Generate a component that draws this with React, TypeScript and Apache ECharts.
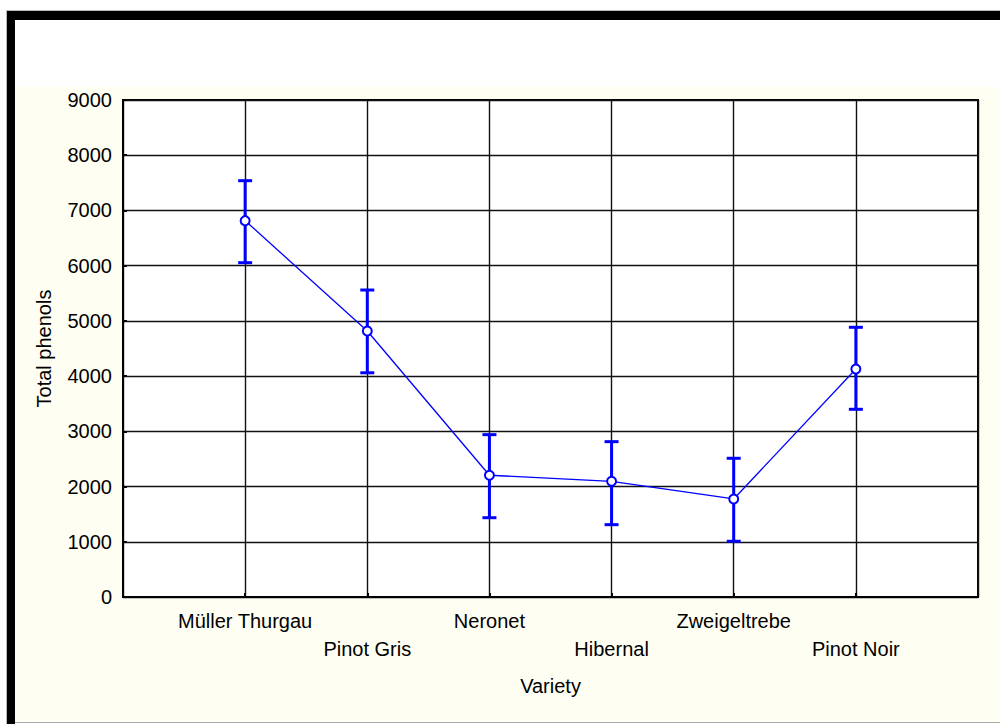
import React, { useEffect, useRef } from "react";
import * as echarts from "echarts";

const categories = ["Müller Thurgau", "Pinot Gris", "Neronet", "Hibernal", "Zweigeltrebe", "Pinot Noir"];
const means = [6815, 4817, 2205, 2095, 1775, 4129];
const upper = [7539, 5559, 2940, 2813, 2512, 4884];
const lower = [6054, 4060, 1436, 1310, 1009, 3399];
const yTicks = { min: 0, max: 9000, interval: 1000 };

const FONT = "Liberation Sans, Arial, sans-serif";
const BLUE = "#0000ff";

export default function App() {
  const ref = useRef<HTMLDivElement>(null);
  useEffect(() => {
    document.body.style.margin = "0";
    const chart = echarts.init(ref.current!, undefined, { renderer: "svg" });
    const lineData = means.map((m, i) => [i + 1, m]);
    const errData = means.map((_, i) => [i + 1, lower[i], upper[i]]);
    chart.setOption({
      animation: false,
      backgroundColor: "#ffffff",
      textStyle: { fontFamily: FONT },
      graphic: [
        { type: "rect", z: -10, silent: true, shape: { x: 15, y: 87, width: 985, height: 635 }, style: { fill: "#fffef3" } },
        { type: "rect", z: -9, silent: true, shape: { x: 6, y: 10, width: 994, height: 1 }, style: { fill: "#bbbbbb" } },
        { type: "rect", z: -9, silent: true, shape: { x: 6, y: 10, width: 1, height: 714 }, style: { fill: "#bbbbbb" } },
        { type: "rect", z: -9, silent: true, shape: { x: 7, y: 11, width: 8, height: 713 }, style: { fill: "#000000" } },
        { type: "rect", z: -9, silent: true, shape: { x: 7, y: 11, width: 993, height: 9 }, style: { fill: "#000000" } },
        { type: "rect", z: -9, silent: true, shape: { x: 15, y: 722, width: 985, height: 1 }, style: { fill: "#aaaaaa" } },
      ],
      grid: {
        left: 123,
        top: 100,
        right: 22,
        bottom: 127,
        show: true,
        backgroundColor: "#ffffff",
        borderColor: "#000000",
        borderWidth: 2,
      },
      xAxis: {
        type: "value",
        min: 0,
        max: 7,
        interval: 1,
        name: "Variety",
        nameLocation: "middle",
        nameGap: 79,
        nameTextStyle: { fontSize: 20, color: "#000", fontFamily: FONT },
        axisLine: { show: true, onZero: false, lineStyle: { color: "#000", width: 2 } },
        axisTick: { show: true, inside: true, length: 4, lineStyle: { color: "#000", width: 2 } },
        splitLine: { show: true, lineStyle: { color: "#111", width: 1.4 } },
        axisLabel: {
          fontSize: 20,
          color: "#000",
          fontFamily: FONT,
          margin: 10,
          lineHeight: 28,
          formatter: (v: number) => {
            const i = Math.round(v) - 1;
            if (i < 0 || i >= categories.length) return "";
            return i % 2 === 1 ? "\n" + categories[i] : categories[i];
          },
        },
      },
      yAxis: {
        type: "value",
        min: yTicks.min,
        max: yTicks.max,
        interval: yTicks.interval,
        name: "Total phenols",
        nameLocation: "middle",
        nameGap: 69,
        nameTextStyle: { fontSize: 20, color: "#000", fontFamily: FONT },
        axisLine: { show: true, lineStyle: { color: "#000", width: 2 } },
        axisTick: { show: true, inside: true, length: 4, lineStyle: { color: "#000", width: 2 } },
        splitLine: { show: true, lineStyle: { color: "#111", width: 1.4 } },
        axisLabel: { fontSize: 20, color: "#000", fontFamily: FONT, margin: 11, formatter: (v: number) => String(v) },
      },
      series: [
        {
          type: "custom",
          z: 3,
          data: errData,
          renderItem: (params: any, api: any) => {
            const x = api.value(0);
            const lo = api.coord([x, api.value(1)]);
            const hi = api.coord([x, api.value(2)]);
            const cap = 7;
            const st = { stroke: BLUE, lineWidth: 3 };
            return {
              type: "group",
              children: [
                { type: "line", shape: { x1: lo[0], y1: lo[1], x2: hi[0], y2: hi[1] }, style: st },
                { type: "line", shape: { x1: lo[0] - cap, y1: lo[1], x2: lo[0] + cap, y2: lo[1] }, style: st },
                { type: "line", shape: { x1: hi[0] - cap, y1: hi[1], x2: hi[0] + cap, y2: hi[1] }, style: st },
              ],
            };
          },
        },
        {
          type: "line",
          z: 4,
          data: lineData,
          symbol: "emptyCircle",
          symbolSize: 9,
          lineStyle: { color: BLUE, width: 1.3 },
          itemStyle: { color: BLUE, borderColor: BLUE, borderWidth: 2 },
        },
      ],
    });
    return () => chart.dispose();
  }, []);
  return <div ref={ref} style={{ width: 1000, height: 724 }} />;
}
